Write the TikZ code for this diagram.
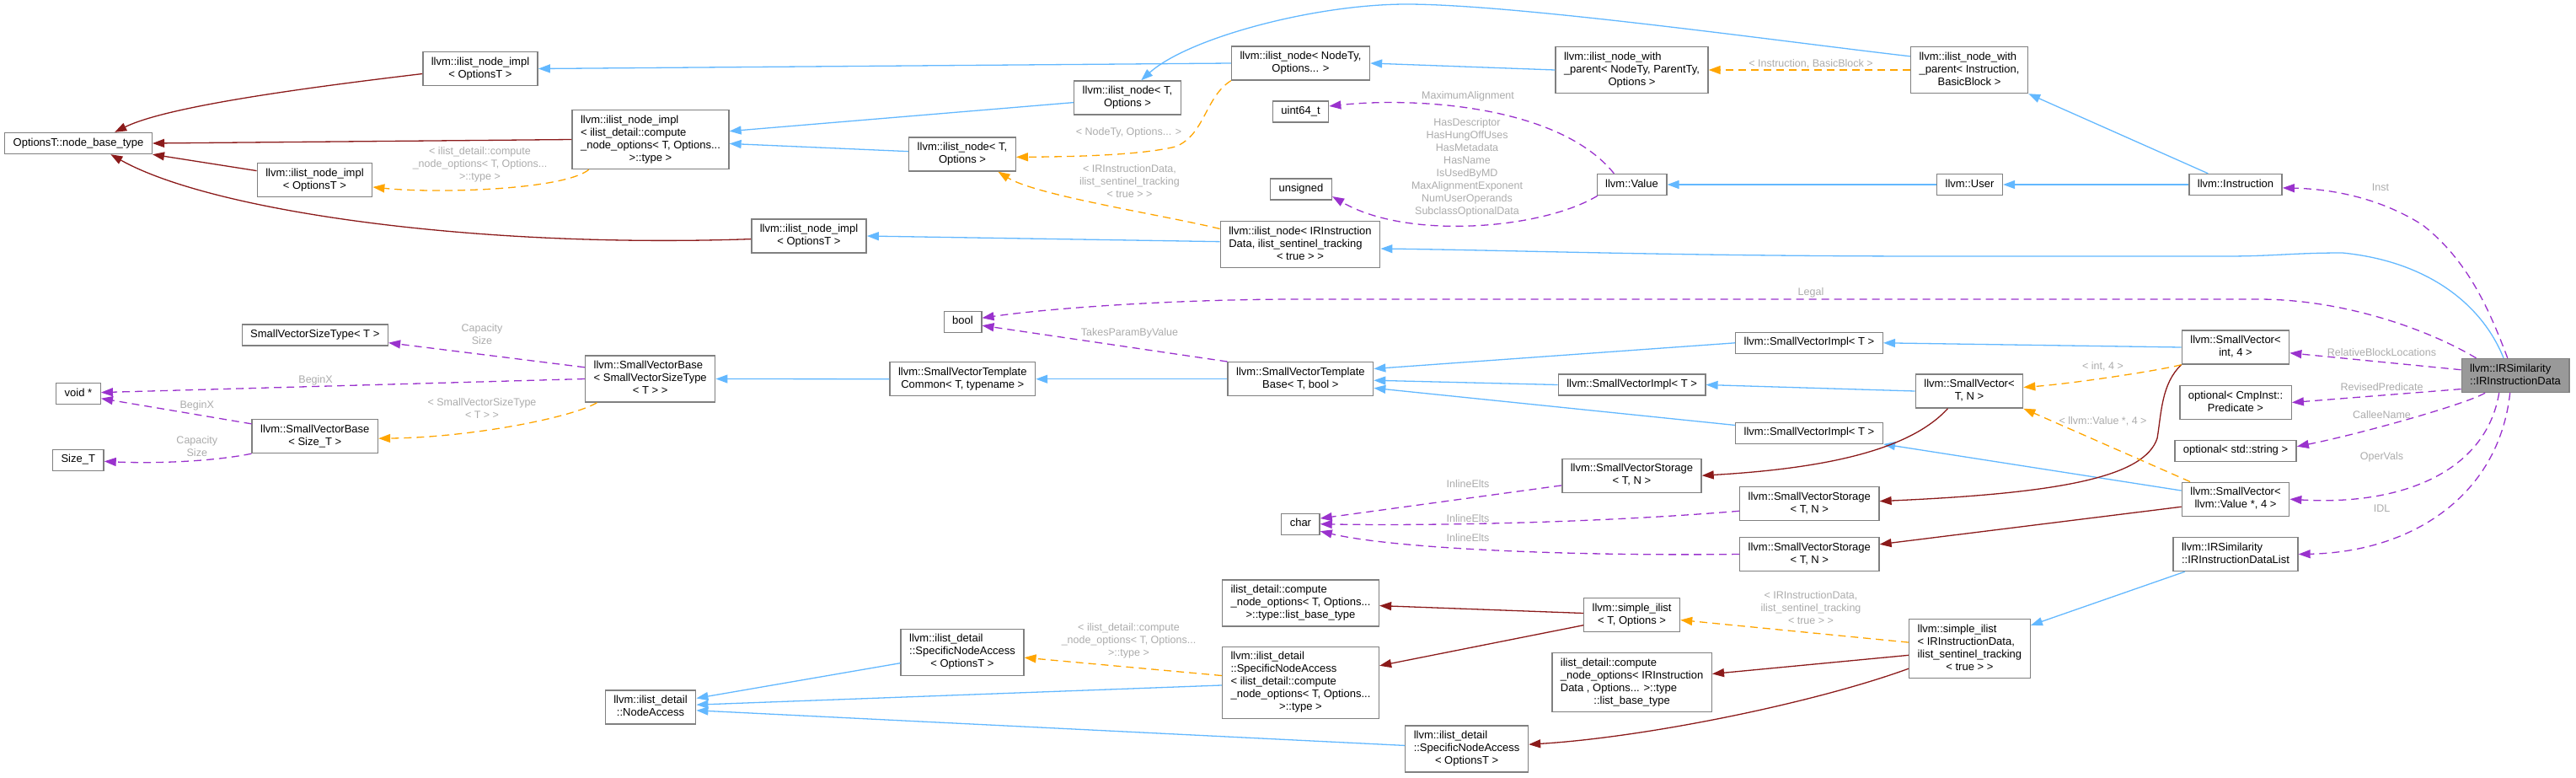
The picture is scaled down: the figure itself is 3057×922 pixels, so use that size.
\documentclass[tikz,border=0pt]{standalone}
\usepackage{fontspec}
\setmainfont{Liberation Sans}
\usetikzlibrary{arrows.meta,calc}
\definecolor{inhblue}{HTML}{63B8FF}
\definecolor{privred}{HTML}{8B1A1A}
\definecolor{tmplorange}{HTML}{FFA500}
\definecolor{usepurple}{HTML}{9A32CD}
\definecolor{lblgray}{HTML}{ABABAB}
\definecolor{boxgray}{HTML}{808080}
\definecolor{focusgray}{HTML}{999999}
% one centred line, or left lines with a centred last line
\newcommand{\dtext}[1]{\begin{tabular}{@{}c@{}}#1\end{tabular}}
\newcommand{\dlines}[2]{\begin{tabular}{@{}l@{}}#1\\\multicolumn{1}{@{}c@{}}{#2}\end{tabular}}

\begin{document}
\begin{tikzpicture}[x=1pt,y=-1pt,
  cls/.style={draw=boxgray,line width=1.4pt,fill=white,inner xsep=10pt,inner ysep=5pt,font=\fontsize{13}{15}\selectfont},
  focus/.style={cls,fill=focusgray},
  elab/.style={text=lblgray,align=center,inner sep=0pt,font=\fontsize{12.5}{15}\selectfont},
  link/.style={line width=1.3pt,-{Triangle[length=14pt,width=10pt]}},
  inh/.style={link,inhblue},
  priv/.style={link,privred},
  tmpl/.style={link,tmplorange,dash pattern=on 9pt off 6pt},
  uses/.style={link,usepurple,dash pattern=on 9pt off 6pt}]
  \useasboundingbox (0,0) rectangle (3057,922);

  % ilist node classes
  \node[cls] (nbt) at (93,170) {\dtext{OptionsT::node\_base\_type}};
  \node[cls] (impl1) at (570,81.5) {\dlines{llvm::ilist\_node\_impl}{< OptionsT >}};
  \node[cls] (impl2) at (373.5,213.5) {\dlines{llvm::ilist\_node\_impl}{< OptionsT >}};
  \node[cls] (implc) at (772,165.5) {\dlines{llvm::ilist\_node\_impl\\< ilist\_detail::compute\\\_node\_options< T, Options...}{>::type >}};
  \node[cls] (impl3) at (960,280) {\dlines{llvm::ilist\_node\_impl}{< OptionsT >}};
  \node[cls] (node1) at (1338,116) {\dlines{llvm::ilist\_node< T,}{Options >}};
  \node[cls] (node2) at (1142,183) {\dlines{llvm::ilist\_node< T,}{Options >}};
  \node[cls] (nodeTy) at (1543.5,75) {\dlines{llvm::ilist\_node< NodeTy,}{Options... >}};
  \node[cls] (nodeIR) at (1543,290) {\dlines{llvm::ilist\_node< IRInstruction\\Data, ilist\_sentinel\_tracking}{< true > >}};
  \node[cls] (uintN) at (1543.5,132.5) {\dtext{uint64\_t}};
  \node[cls] (unsig) at (1544,224.5) {\dtext{unsigned}};
  \node[cls] (nwp) at (1936.5,83) {\dlines{llvm::ilist\_node\_with\\\_parent< NodeTy, ParentTy,}{Options >}};
  \node[cls] (value) at (1936.5,219) {\dtext{llvm::Value}};
  \node[cls] (nwpI) at (2337,83) {\dlines{llvm::ilist\_node\_with\\\_parent< Instruction,}{BasicBlock >}};
  \node[cls] (user) at (2337.5,219) {\dtext{llvm::User}};
  \node[cls] (instr) at (2653,219) {\dtext{llvm::Instruction}};

  % small vector classes
  \node[cls] (svst) at (373.8,397.5) {\dtext{SmallVectorSizeType< T >}};
  \node[cls] (voidp) at (93,467) {\dtext{void *}};
  \node[cls] (sizet) at (92.8,545.7) {\dtext{Size\_T}};
  \node[cls] (svbS) at (373.8,517.5) {\dlines{llvm::SmallVectorBase}{< Size\_T >}};
  \node[cls] (svb) at (771.7,449.5) {\dlines{llvm::SmallVectorBase\\< SmallVectorSizeType}{< T > >}};
  \node[cls] (boolN) at (1142.5,381.7) {\dtext{bool}};
  \node[cls] (svtc) at (1142.3,449.7) {\dlines{llvm::SmallVectorTemplate}{Common< T, typename >}};
  \node[cls] (svtb) at (1543.4,449.7) {\dlines{llvm::SmallVectorTemplate}{Base< T, bool >}};
  \node[cls] (svi1) at (2147,406.8) {\dtext{llvm::SmallVectorImpl< T >}};
  \node[cls] (svi2) at (1936.6,456.5) {\dtext{llvm::SmallVectorImpl< T >}};
  \node[cls] (svi3) at (2147,513.7) {\dtext{llvm::SmallVectorImpl< T >}};
  \node[cls] (svs1) at (1936.4,564.2) {\dlines{llvm::SmallVectorStorage}{< T, N >}};
  \node[cls] (svs2) at (2147.3,597.5) {\dlines{llvm::SmallVectorStorage}{< T, N >}};
  \node[cls] (svs3) at (2147.3,657.5) {\dlines{llvm::SmallVectorStorage}{< T, N >}};
  \node[cls] (charN) at (1543.4,621.7) {\dtext{char}};
  \node[cls] (sv4) at (2653,412) {\dlines{llvm::SmallVector<}{int, 4 >}};
  \node[cls] (svTN) at (2337,464) {\dlines{llvm::SmallVector<}{T, N >}};
  \node[cls] (optP) at (2653,477.5) {\dlines{optional< CmpInst::}{Predicate >}};
  \node[cls] (optS) at (2653,534.8) {\dtext{optional< std::string >}};
  \node[cls] (svV) at (2653,592.2) {\dlines{llvm::SmallVector<}{llvm::Value *, 4 >}};
  \node[focus] (irid) at (2985,445.5) {\dlines{llvm::IRSimilarity}{::IRInstructionData}};
  \node[cls] (idl) at (2653,657.5) {\dlines{llvm::IRSimilarity}{::IRInstructionDataList}};

  % simple_ilist classes
  \node[cls] (nacc) at (772,839) {\dlines{llvm::ilist\_detail}{::NodeAccess}};
  \node[cls] (sna1) at (1142,773.7) {\dlines{llvm::ilist\_detail\\::SpecificNodeAccess}{< OptionsT >}};
  \node[cls] (cnoLB) at (1543.5,715.3) {\dlines{ilist\_detail::compute\\\_node\_options< T, Options...}{>::type::list\_base\_type}};
  \node[cls] (sna2) at (1543.5,809.7) {\dlines{llvm::ilist\_detail\\::SpecificNodeAccess\\< ilist\_detail::compute\\\_node\_options< T, Options...}{>::type >}};
  \node[cls] (silT) at (1936.6,729.5) {\dlines{llvm::simple\_ilist}{< T, Options >}};
  \node[cls] (cnoIR) at (1936.6,809.5) {\dlines{ilist\_detail::compute\\\_node\_options< IRInstruction\\Data , Options... >::type}{::list\_base\_type}};
  \node[cls] (sna3) at (1740.6,888.3) {\dlines{llvm::ilist\_detail\\::SpecificNodeAccess}{< OptionsT >}};
  \node[cls] (silIR) at (2337.4,769.7) {\dlines{llvm::simple\_ilist\\< IRInstructionData,\\ilist\_sentinel\_tracking}{< true > >}};

  % public inheritance
  \draw[inh] (nodeTy.west) -- (impl1.east);
  \draw[inh] (node1.185) -- (implc.6);
  \draw[inh] (node2.177) -- (implc.-3);
  \draw[inh] (nodeIR.178) -- (impl3.east);
  \draw[inh] (nwpI.167) .. controls (2120,50) and (1800,5) .. (1669,5) .. controls (1560,5) and (1410,45) .. (node1.52);
  \draw[inh] (nwp.west) -- (nodeTy.east);
  \draw[inh] (user.west) -- (value.east);
  \draw[inh] (instr.west) -- (user.east);
  \draw[inh] (instr.158) -- (nwpI.south east);
  \draw[inh] (irid.124) .. controls (2945,360) and (2880,310) .. (2780,300) .. controls (2720,300) and (2700,304) .. (2640,304) -- (2300,304) .. controls (2000,304) and (1800,297) .. (nodeIR.-3);
  \draw[inh] (svtc.west) -- (svb.east);
  \draw[inh] (svtb.west) -- (svtc.east);
  \draw[inh] (svi1.west) -- (svtb.8);
  \draw[inh] (svi2.west) -- (svtb.-1);
  \draw[inh] (svi3.174) -- (svtb.-7);
  \draw[inh] (sv4.west) -- (svi1.east);
  \draw[inh] (svTN.west) -- (svi2.east);
  \draw[inh] (svV.171) -- (svi3.south east);
  \draw[inh] (sna1.190) -- (nacc.11);
  \draw[inh] (sna2.182) -- (nacc.3);
  \draw[inh] (sna3.177) -- (nacc.-4);
  \draw[inh] (idl.199) -- (silIR.21);

  % private inheritance
  \draw[priv] (impl1.185) .. controls (380,102) and (200,125) .. (nbt.17);
  \draw[priv] (implc.west) -- (nbt.east);
  \draw[priv] (impl2.171) -- (nbt.south east);
  \draw[priv] (impl3.183) .. controls (560,295) and (250,250) .. (nbt.-19);
  \draw[priv] (svTN.219) .. controls (2270,530) and (2180,555) .. (svs1.east);
  \draw[priv] (sv4.south west) .. controls (2565,455) and (2565,490) .. (2560,520) .. controls (2545,565) and (2450,585) .. (svs2.2);
  \draw[priv] (svV.188) -- (svs3.8);
  \draw[priv] (silT.178) -- (cnoLB.-2);
  \draw[priv] (silT.192) -- (sna2.12);
  \draw[priv] (silIR.186) -- (cnoIR.6);
  \draw[priv] (silIR.198) .. controls (2150,835) and (1950,875) .. (sna3.4);

  % template instances
  \draw[tmpl] (implc.206) .. controls (670,225) and (520,230) .. (impl2.-7);
  \draw[tmpl] (nodeTy.south west) .. controls (1430,115) and (1430,160) .. (1395,174) .. controls (1350,185) and (1260,186) .. (node2.-3);
  \draw[tmpl] (nodeIR.169) .. controls (1380,255) and (1230,232) .. (node2.-26);
  \draw[tmpl] (nwpI.west) -- (nwp.east);
  \draw[tmpl] (svb.204) .. controls (680,495) and (560,519) .. (svbS.-2);
  \draw[tmpl] (sv4.south west) .. controls (2560,440) and (2460,455) .. (svTN.4);
  \draw[tmpl] (svV.159) -- (svTN.south east);
  \draw[tmpl] (sna2.175) -- (sna1.-5);
  \draw[tmpl] (silIR.174) -- (silT.-6);

  % members
  \draw[uses] (value.148) .. controls (1850,125) and (1680,115) .. (uintN.11);
  \draw[uses] (value.198) .. controls (1830,272) and (1670,285) .. (unsig.-13);
  \draw[uses] (irid.114) .. controls (2955,370) and (2930,310) .. (2875,267) .. controls (2820,232) and (2760,224) .. (instr.-4);
  \draw[uses] (irid.156) .. controls (2880,390) and (2780,355) .. (2680,355) -- (1540,355) .. controls (1400,355) and (1250,365) .. (boolN.11);
  \draw[uses] (svtb.north west) -- (boolN.-11);
  \draw[uses] (svb.170) -- (svst.-6);
  \draw[uses] (svb.west) -- (voidp.3);
  \draw[uses] (svbS.169) -- (voidp.-12);
  \draw[uses] (svbS.south west) .. controls (250,548) and (180,550) .. (sizet.-3);
  \draw[uses] (svs1.188) -- (charN.16);
  \draw[uses] (svs2.186) .. controls (1900,620) and (1700,624) .. (charN.east);
  \draw[uses] (svs3.west) .. controls (1850,660) and (1650,650) .. (charN.-20);
  \draw[uses] (irid.174) -- (sv4.-6);
  \draw[uses] (irid.194) -- (optP.east);
  \draw[uses] (irid.210) .. controls (2925,480) and (2800,515) .. (optS.4);
  \draw[uses] (irid.227) .. controls (2950,560) and (2850,600) .. (svV.east);
  \draw[uses] (irid.253) .. controls (2965,590) and (2860,655) .. (idl.east);

  % edge labels
  \node[elab] (lblcompute) at (569.5,195) {< ilist\_detail::compute\\\_node\_options< T, Options...\\>::type >};
  \node[elab] (lblnodety) at (1339.5,157.7) {< NodeTy, Options... >};
  \node[elab] (lblirdata) at (1340.5,215) {< IRInstructionData,\\ilist\_sentinel\_tracking\\< true > >};
  \node[elab] (lblbasic) at (2149,76) {< Instruction, BasicBlock >};
  \node[elab] (lblmaxal) at (1742,114.7) {MaximumAlignment};
  \node[elab] (lblbits) at (1741,199.2) {HasDescriptor\\HasHungOffUses\\HasMetadata\\HasName\\IsUsedByMD\\MaxAlignmentExponent\\NumUserOperands\\SubclassOptionalData};
  \node[elab] (lblinst) at (2825,222) {Inst};
  \node[elab] (lbllegal) at (2149,347.7) {Legal};
  \node[elab] (lblparam) at (1340.5,395.7) {TakesParamByValue};
  \node[elab] (lblcap1) at (572,396.2) {Capacity\\Size};
  \node[elab] (lblbegin1) at (374.6,451.7) {BeginX};
  \node[elab] (lblbegin2) at (233.8,481.7) {BeginX};
  \node[elab] (lblcap2) at (233.8,530) {Capacity\\Size};
  \node[elab] (lblsizetype) at (572,484.2) {< SmallVectorSizeType\\< T > >};
  \node[elab] (lblinline1) at (1742,574.3) {InlineElts};
  \node[elab] (lblinline2) at (1742,615) {InlineElts};
  \node[elab] (lblinline3) at (1742,638.3) {InlineElts};
  \node[elab] (lblrel) at (2826.5,417.7) {RelativeBlockLocations};
  \node[elab] (lblpred) at (2826.5,459.3) {RevisedPredicate};
  \node[elab] (lblcallee) at (2826.5,491.7) {CalleeName};
  \node[elab] (lblopers) at (2826.5,542.7) {OperVals};
  \node[elab] (lblidl) at (2826.5,603.3) {IDL};
  \node[elab] (lblint) at (2495.5,435) {< int, 4 >};
  \node[elab] (lblvalue) at (2495.5,500) {< llvm::Value *, 4 >};
  \node[elab] (lblcompute2) at (1339.5,760.7) {< ilist\_detail::compute\\\_node\_options< T, Options...\\>::type >};
  \node[elab] (lblirdata2) at (2149,721) {< IRInstructionData,\\ilist\_sentinel\_tracking\\< true > >};
\end{tikzpicture}
\end{document}
